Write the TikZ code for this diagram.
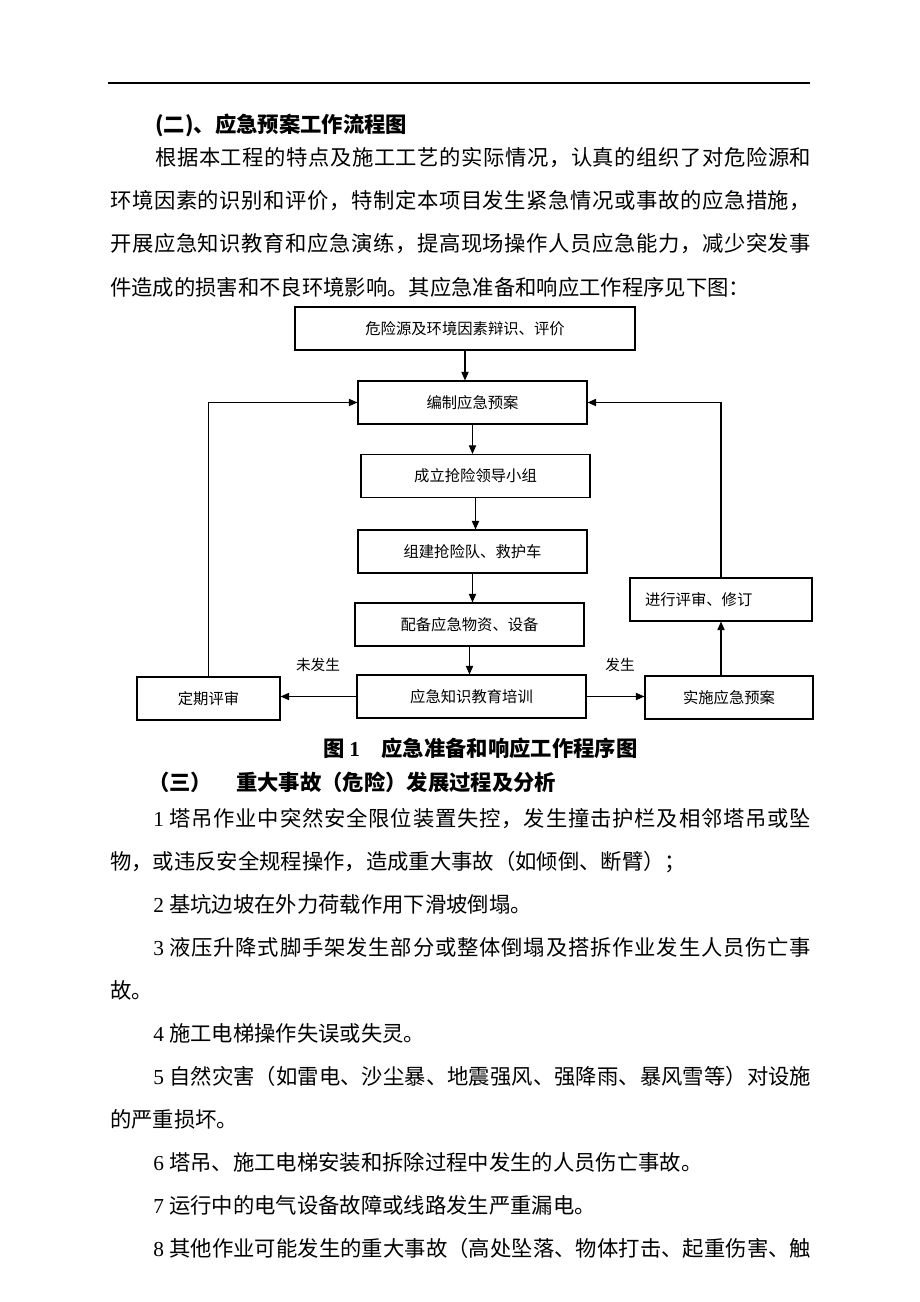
\documentclass[tikz,border=0pt]{standalone}
\usepackage{fontspec}
\setmainfont{Noto Sans CJK SC}
\newfontfamily\latin{Liberation Serif}
\usetikzlibrary{arrows.meta}
\def\jline#1{\jlinefirst#1\relax}
\def\jlinefirst#1{#1\jlinerest}
\def\jlinerest#1{\ifx#1\relax\else\hskip 0pt plus 1fil #1\expandafter\jlinerest\fi}

\begin{document}
\begin{tikzpicture}[x=0.75pt,y=-0.75pt]
\tikzstyle{BoxStyle}=[
draw,
line width = 0.8pt,
minimum height = 32.25pt,
inner sep = 0pt,
font = \fontsize{11.5}{13}\selectfont]
\tikzstyle{TextStyle}=[anchor = west, inner sep = 0pt, font = \fontsize{16}{16}\selectfont]
\tikzstyle{HeadStyle}=[anchor = west, inner sep = 0pt, font = \fontsize{16}{16}\selectfont\bfseries]
\tikzstyle{FlowStyle}=[line width = 0.8pt, -{Triangle[length = 6.5pt, width = 5.5pt]}]
\useasboundingbox (0,0) rectangle (920,1302);
\draw[line width = 1pt] (108,83) -- (810,83);
\node[HeadStyle] (h2) at (155,125) {(二)、应急预案工作流程图};
\node[TextStyle] (p1) at (155,158) {\hbox to 492pt{\jline{根据本工程的特点及施工工艺的实际情况，认真的组织了对危险源和}}};
\node[TextStyle] (p2) at (110,201) {\hbox to 525.75pt{\jline{环境因素的识别和评价，特制定本项目发生紧急情况或事故的应急措施，}}};
\node[TextStyle] (p3) at (110,244) {\hbox to 525.75pt{\jline{开展应急知识教育和应急演练，提高现场操作人员应急能力，减少突发事}}};
\node[TextStyle] (p4) at (110,287) {件造成的损害和不良环境影响。其应急准备和响应工作程序见下图：};
\node[BoxStyle, minimum width = 255pt] (risk) at (465,328.5) {危险源及环境因素辩识、评价};
\node[BoxStyle, minimum width = 171.75pt] (plan) at (472.5,402.5) {编制应急预案};
\node[BoxStyle, minimum width = 171.75pt] (lead) at (475.5,476) {成立抢险领导小组};
\node[BoxStyle, minimum width = 171.75pt] (crew) at (472.5,551.5) {组建抢险队、救护车};
\node[BoxStyle, minimum width = 171.75pt] (supply) at (469.5,624.5) {配备应急物资、设备};
\node[BoxStyle, minimum width = 171.75pt] (train) at (471.5,696.5) {应急知识教育培训};
\node[BoxStyle, minimum width = 107.25pt] (periodic) at (208.5,698.5) {定期评审};
\node[BoxStyle, minimum width = 126pt] (implement) at (729,697.5) {实施应急预案};
\node[BoxStyle, text width = 114pt, inner xsep = 11.25pt, align = left] (revise) at (721,599.5) {进行评审、修订};
\node[font = \fontsize{11}{12}\selectfont, inner sep = 0pt] (notlab) at (318,665) {未发生};
\node[font = \fontsize{11}{12}\selectfont, inner sep = 0pt] (yeslab) at (620,665) {发生};
\draw[FlowStyle] (risk.south) -- (risk.south |- plan.north);
\draw[FlowStyle] (plan.south) -- (plan.south |- lead.north);
\draw[FlowStyle] (lead.south) -- (lead.south |- crew.north);
\draw[FlowStyle] (crew.south) -- (crew.south |- supply.north);
\draw[FlowStyle] (supply.south) -- (supply.south |- train.north);
\draw[FlowStyle] (train.west) -- (train.west -| periodic.east);
\draw[FlowStyle] (train.east) -- (train.east -| implement.west);
\draw[FlowStyle] (revise.south |- implement.north) -- (revise.south);
\draw[FlowStyle] (periodic.north) |- (plan.west);
\draw[FlowStyle] (revise.north) |- (plan.east);
\node[HeadStyle] (cap) at (323,748) {图 {\latin\bfseries 1}\hspace{16pt}应急准备和响应工作程序图};
\node[HeadStyle] (h3) at (148,782) {（三）\hspace{18pt}重大事故（危险）发展过程及分析};
\node[TextStyle] (q1) at (153,819) {{\latin 1}\kern4pt\hbox to 481.5pt{\jline{塔吊作业中突然安全限位装置失控，发生撞击护栏及相邻塔吊或坠}}};
\node[TextStyle] (q2) at (110,862) {物，或违反安全规程操作，造成重大事故（如倾倒、断臂）；};
\node[TextStyle] (q3) at (153,904) {{\latin 2}\kern4pt 基坑边坡在外力荷载作用下滑坡倒塌。};
\node[TextStyle] (q4) at (153,947) {{\latin 3}\kern4pt\hbox to 481.5pt{\jline{液压升降式脚手架发生部分或整体倒塌及搭拆作业发生人员伤亡事}}};
\node[TextStyle] (q5) at (110,990) {故。};
\node[TextStyle] (q6) at (153,1033) {{\latin 4}\kern4pt 施工电梯操作失误或失灵。};
\node[TextStyle] (q7) at (153,1076) {{\latin 5}\kern4pt\hbox to 481.5pt{\jline{自然灾害（如雷电、沙尘暴、地震强风、强降雨、暴风雪等）对设施}}};
\node[TextStyle] (q8) at (110,1119) {的严重损坏。};
\node[TextStyle] (q9) at (153,1162) {{\latin 6}\kern4pt 塔吊、施工电梯安装和拆除过程中发生的人员伤亡事故。};
\node[TextStyle] (q10) at (153,1205) {{\latin 7}\kern4pt 运行中的电气设备故障或线路发生严重漏电。};
\node[TextStyle] (q11) at (153,1248) {{\latin 8}\kern4pt\hbox to 481.5pt{\jline{其他作业可能发生的重大事故（高处坠落、物体打击、起重伤害、触}}};
\end{tikzpicture}
\end{document}
